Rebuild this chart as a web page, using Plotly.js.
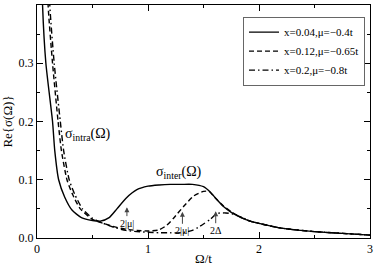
<!DOCTYPE html>
<html>
<head>
<meta charset="utf-8">
<script src="https://cdn.plot.ly/plotly-3.0.1.min.js"></script>
<style>html,body{margin:0;padding:0;background:#fff;}#chart{width:374px;height:266px;}</style>
</head>
<body>
<div id="chart"></div>
<script>
// Series 1: x=0.04, mu=-0.4t (solid)
const omega1 = [0.04,0.05,0.08,0.14,0.16,0.195,0.25,0.315,0.4,0.5,0.57,0.65,0.72,0.8,0.9,1.0,1.1,1.2,1.3,1.4,1.5,1.56,1.62,1.68,1.75,1.83,1.92,2.0,2.2,2.5,2.75,3.0];
const sigma1 = [0.5,0.4,0.3,0.2,0.15,0.1,0.07,0.048,0.035,0.03,0.029,0.035,0.05,0.068,0.083,0.089,0.091,0.092,0.092,0.092,0.088,0.079,0.066,0.054,0.044,0.036,0.029,0.025,0.017,0.011,0.008,0.005];
// Series 2: x=0.12, mu=-0.65t (dashed)
const omega2 = [0.09,0.1,0.14,0.19,0.22,0.27,0.32,0.39,0.5,0.6,0.7,0.8,0.9,1.0,1.1,1.17,1.23,1.32,1.41,1.5,1.55,1.6,1.68,1.75,1.83,1.92,2.0,2.2,2.5,2.75,3.0];
const sigma2 = [0.5,0.4,0.3,0.2,0.15,0.1,0.075,0.05,0.032,0.025,0.019,0.015,0.013,0.012,0.014,0.022,0.034,0.054,0.072,0.08,0.08,0.07,0.055,0.045,0.036,0.029,0.025,0.017,0.011,0.008,0.005];
// Series 3: x=0.2, mu=-0.8t (dash-dot)
const omega3 = [0.10,0.115,0.155,0.21,0.24,0.29,0.34,0.41,0.5,0.6,0.7,0.8,0.9,1.0,1.1,1.2,1.3,1.4,1.45,1.5,1.56,1.62,1.7,1.77,1.85,1.92,2.0,2.2,2.5,2.75,3.0];
const sigma3 = [0.5,0.4,0.3,0.2,0.15,0.1,0.075,0.05,0.034,0.025,0.018,0.013,0.011,0.01,0.009,0.009,0.009,0.013,0.018,0.024,0.032,0.042,0.043,0.041,0.035,0.029,0.025,0.017,0.011,0.008,0.005];
const seriesNames = ["x=0.04,μ=−0.4t","x=0.12,μ=−0.65t","x=0.2,μ=−0.8t"];
const xTicks = [0,1,2,3];
const yTicks = [0.0,0.1,0.2,0.3,0.4];

const font = "Liberation Serif";
const mk = (x,y,name,dash)=>({x:x,y:y,name:name,type:'scatter',mode:'lines',
  line:{color:'black',width:1.4,dash:dash,shape:'spline',smoothing:0.6}});
const data = [
  mk(omega1,sigma1,seriesNames[0],'solid'),
  mk(omega2,sigma2,seriesNames[1],'5px,3px'),
  mk(omega3,sigma3,seriesNames[2],'6px,3px,1.5px,3px')
];
const axBase = {showline:true,linecolor:'black',linewidth:1,mirror:'allticks',ticks:'inside',
  ticklen:6,tickcolor:'black',showgrid:false,zeroline:false,tickfont:{family:font,size:12,color:'black'}};
const layout = {
  width:374,height:266,margin:{l:37,r:4,t:5,b:28},
  paper_bgcolor:'white',plot_bgcolor:'white',
  font:{family:font,color:'black'},
  xaxis:Object.assign({},axBase,{range:[0,3],tickvals:xTicks,ticktext:xTicks.map(String),
    minor:{dtick:0.5,tick0:0,ticks:'inside',ticklen:3,tickcolor:'black'},
    title:{text:'Ω/t',font:{family:font,size:13},standoff:2}}),
  yaxis:Object.assign({},axBase,{range:[0,0.4],tickvals:yTicks,ticktext:yTicks.map(v=>v.toFixed(1)),
    minor:{dtick:0.05,tick0:0,ticks:'inside',ticklen:3,tickcolor:'black'},
    title:{text:'Re{σ(Ω)}',font:{family:font,size:13},standoff:4}}),
  showlegend:true,
  legend:{x:0.985,y:0.95,xanchor:'right',yanchor:'top',bgcolor:'white',bordercolor:'#666',borderwidth:1,
    font:{family:font,size:11},tracegroupgap:0,itemwidth:30},
  annotations:[
    {x:0.46,y:0.177,xref:'x',yref:'y',text:'σ<sub>intra</sub>(Ω)',showarrow:false,font:{family:font,size:14}},
    {x:1.28,y:0.113,xref:'x',yref:'y',text:'σ<sub>inter</sub>(Ω)',showarrow:false,font:{family:font,size:14}},
    {x:0.81,y:0.053,xref:'x',yref:'y',text:'2|μ|',showarrow:true,ax:0,ay:16,arrowhead:2,arrowsize:1,arrowwidth:1,font:{family:font,size:10}},
    {x:1.31,y:0.045,xref:'x',yref:'y',text:'2|μ|',showarrow:true,ax:0,ay:19,arrowhead:2,arrowsize:1,arrowwidth:1,font:{family:font,size:10}},
    {x:1.61,y:0.046,xref:'x',yref:'y',text:'2Δ',showarrow:true,ax:0,ay:19,arrowhead:2,arrowsize:1,arrowwidth:1,font:{family:font,size:10}}
  ]
};
Plotly.newPlot('chart',data,layout,{displayModeBar:false,staticPlot:true});
</script>
</body>
</html>
